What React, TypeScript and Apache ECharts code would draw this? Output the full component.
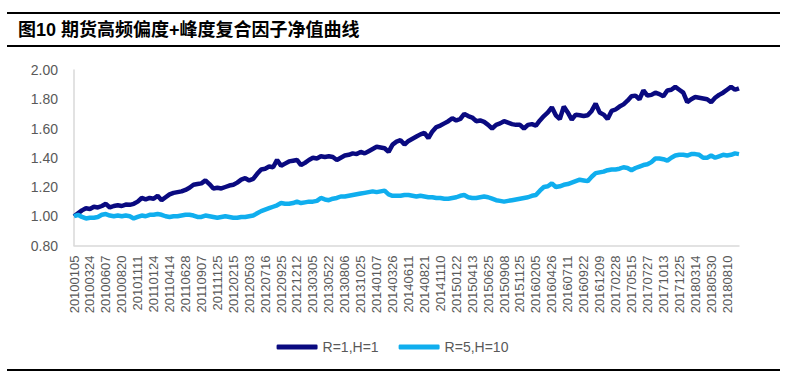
import React, { useEffect, useRef } from "react";
import * as echarts from "echarts";

const tickLabels = [
  "20100105", "20100324", "20100607", "20100820", "20101111", "20110124", "20110414",
  "20110628", "20110907", "20111125", "20120215", "20120503", "20120716", "20120925",
  "20121212", "20130305", "20130522", "20130806", "20131025", "20140107", "20140326",
  "20140611", "20140821", "20141110", "20150122", "20150413", "20150625", "20150908",
  "20151125", "20160205", "20160426", "20160711", "20160922", "20161209", "20170228",
  "20170515", "20170727", "20171013", "20171225", "20180314", "20180530", "20180810",
];

const seriesNames = ["R=1,H=1", "R=5,H=10"];

const navR1H1 = [
  1.00, 1.02, 1.04, 1.055, 1.05, 1.065, 1.06, 1.07, 1.085, 1.06,
  1.07, 1.075, 1.07, 1.08, 1.078, 1.085, 1.10, 1.125, 1.115, 1.125,
  1.12, 1.14, 1.11, 1.13, 1.15, 1.16, 1.165, 1.17, 1.18, 1.195,
  1.215, 1.22, 1.225, 1.245, 1.22, 1.19, 1.195, 1.19, 1.20, 1.21,
  1.215, 1.23, 1.25, 1.26, 1.245, 1.255, 1.29, 1.32, 1.325, 1.34,
  1.335, 1.385, 1.345, 1.36, 1.375, 1.38, 1.385, 1.35, 1.365, 1.385,
  1.40, 1.395, 1.41, 1.405, 1.41, 1.405, 1.385, 1.40, 1.415, 1.42,
  1.43, 1.425, 1.44, 1.43, 1.445, 1.46, 1.475, 1.47, 1.465, 1.44,
  1.49, 1.51, 1.52, 1.49, 1.515, 1.53, 1.545, 1.56, 1.57, 1.535,
  1.58, 1.61, 1.62, 1.635, 1.65, 1.67, 1.655, 1.665, 1.70, 1.685,
  1.675, 1.65, 1.655, 1.645, 1.625, 1.60, 1.625, 1.635, 1.65, 1.64,
  1.63, 1.625, 1.625, 1.60, 1.625, 1.63, 1.62, 1.655, 1.685, 1.71,
  1.745, 1.69, 1.665, 1.75, 1.71, 1.66, 1.695, 1.69, 1.685, 1.69,
  1.72, 1.77, 1.71, 1.695, 1.665, 1.72, 1.73, 1.75, 1.765, 1.79,
  1.82, 1.825, 1.80, 1.86, 1.825, 1.83, 1.845, 1.835, 1.82, 1.86,
  1.865, 1.885, 1.865, 1.845, 1.78, 1.80, 1.815, 1.81, 1.805, 1.80,
  1.78, 1.81, 1.83, 1.845, 1.865, 1.885, 1.865, 1.875,
];

const navR5H10 = [
  1.00, 1.01, 0.995, 0.985, 0.99, 0.99, 0.995, 1.01, 1.015, 1.005,
  1.00, 1.005, 1.00, 1.005, 1.00, 0.985, 0.995, 1.005, 1.00, 1.01,
  1.01, 1.015, 1.01, 1.00, 0.995, 1.00, 1.00, 1.005, 1.01, 1.01,
  1.005, 0.995, 0.995, 1.005, 1.00, 0.995, 0.99, 0.995, 1.00, 0.995,
  0.99, 0.99, 0.995, 0.995, 1.00, 1.005, 1.02, 1.035, 1.045, 1.055,
  1.065, 1.075, 1.09, 1.085, 1.085, 1.09, 1.10, 1.09, 1.095, 1.10,
  1.10, 1.105, 1.125, 1.115, 1.11, 1.12, 1.125, 1.135, 1.135, 1.14,
  1.145, 1.15, 1.155, 1.16, 1.165, 1.17, 1.165, 1.17, 1.175, 1.15,
  1.14, 1.14, 1.14, 1.145, 1.145, 1.14, 1.135, 1.14, 1.135, 1.13,
  1.13, 1.125, 1.125, 1.12, 1.12, 1.125, 1.13, 1.14, 1.145, 1.13,
  1.125, 1.125, 1.13, 1.135, 1.13, 1.12, 1.11, 1.105, 1.10, 1.105,
  1.11, 1.115, 1.12, 1.125, 1.13, 1.14, 1.145, 1.175, 1.20, 1.205,
  1.225, 1.20, 1.205, 1.215, 1.22, 1.23, 1.24, 1.25, 1.245, 1.24,
  1.27, 1.295, 1.30, 1.305, 1.315, 1.32, 1.32, 1.325, 1.335, 1.33,
  1.315, 1.33, 1.34, 1.35, 1.355, 1.37, 1.395, 1.395, 1.39, 1.38,
  1.40, 1.415, 1.42, 1.42, 1.415, 1.425, 1.425, 1.42, 1.40, 1.40,
  1.415, 1.40, 1.41, 1.42, 1.415, 1.42, 1.43, 1.425,
];

const pointsPerLabel = 4;
const titleText = "图10 期货高频偏度+峰度复合因子净值曲线";

export default function App() {
  const ref = useRef<HTMLDivElement>(null);
  useEffect(() => {
    if (!ref.current) return;
    const chart = echarts.init(ref.current, null, { renderer: "svg" });
    const categories = navR1H1.map((_, i) => {
      const base = tickLabels[Math.min(Math.floor(i / pointsPerLabel), tickLabels.length - 1)];
      return i % pointsPerLabel === 0 ? base : base + "_" + (i % pointsPerLabel);
    });
    const font = '"Liberation Sans", Arial, sans-serif';
    chart.setOption({
      animation: false,
      backgroundColor: "#ffffff",
      grid: { left: 74, right: 46, top: 70, bottom: 128.5, containLabel: false },
      legend: {
        data: seriesNames,
        left: "center",
        top: 335,
        icon: "roundRect",
        itemWidth: 41,
        itemHeight: 5,
        itemGap: 20,
        textStyle: { fontSize: 14, color: "#595959", fontFamily: font },
      },
      xAxis: {
        type: "category",
        data: categories,
        boundaryGap: false,
        axisLine: { show: true, lineStyle: { color: "#d9d9d9", width: 1.5 } },
        axisTick: { show: false },
        splitLine: { show: false },
        axisLabel: {
          interval: pointsPerLabel - 1,
          rotate: 90,
          margin: 10,
          fontSize: 13,
          color: "#595959",
          fontFamily: font,
        },
      },
      yAxis: {
        type: "value",
        min: 0.8,
        max: 2.0,
        interval: 0.2,
        axisLine: { show: true, lineStyle: { color: "#d9d9d9", width: 1.5 } },
        axisTick: { show: false },
        splitLine: { show: false },
        axisLabel: {
          margin: 16,
          fontSize: 14,
          color: "#595959",
          fontFamily: font,
          formatter: (v: number) => v.toFixed(2),
        },
      },
      series: [
        {
          name: seriesNames[0],
          type: "line",
          data: navR1H1,
          showSymbol: false,
          lineStyle: { color: "#0a0a80", width: 4.5 },
          itemStyle: { color: "#0a0a80" },
        },
        {
          name: seriesNames[1],
          type: "line",
          data: navR5H10,
          showSymbol: false,
          lineStyle: { color: "#10aeee", width: 4.5 },
          itemStyle: { color: "#10aeee" },
        },
      ],
      graphic: [
        { type: "rect", shape: { x: 7, y: 12, width: 773, height: 2 }, style: { fill: "#000" } },
        { type: "rect", shape: { x: 7, y: 45, width: 773, height: 2 }, style: { fill: "#000" } },
        { type: "rect", shape: { x: 7, y: 369, width: 773, height: 2 }, style: { fill: "#000" } },
        {
          type: "text",
          x: 18,
          y: 30,
          style: {
            text: titleText,
            fontSize: 18,
            fontWeight: "bold",
            fontFamily: '"Liberation Sans", "Noto Sans CJK SC", sans-serif',
            fill: "#000",
            verticalAlign: "middle",
            align: "left",
          },
        },
      ],
    });
    return () => chart.dispose();
  }, []);
  return (
    <div
      ref={ref}
      style={{ position: "fixed", left: 0, top: 0, width: 785, height: 374 }}
    />
  );
}
